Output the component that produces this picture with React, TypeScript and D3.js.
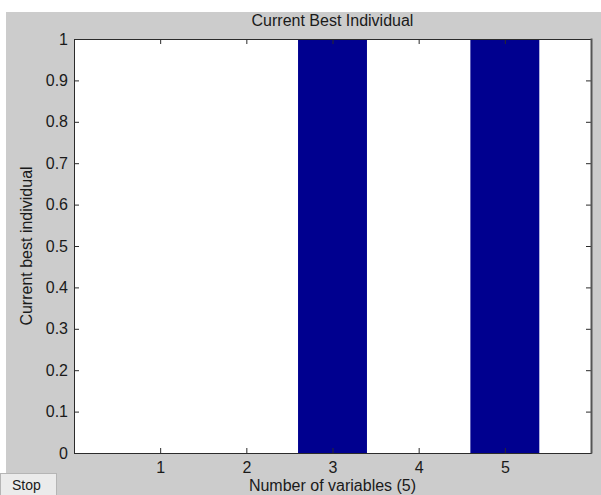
import React, { useEffect, useRef } from "react";
import * as d3 from "d3";

// values
const variables = [1, 2, 3, 4, 5];
const bestIndividual = [0, 0, 1, 0, 1];
const xTickLabels = ["1", "2", "3", "4", "5"];
const chartTitle = "Current Best Individual";
const xTitle = "Number of variables (5)";
const yTitle = "Current best individual";

const App = () => {
    const ref = useRef<SVGSVGElement | null>(null);

    useEffect(() => {
        const width = 601;
        const height = 495;
        const font = "'Liberation Sans', Arial, sans-serif";

        const svg = d3.select(ref.current);
        svg.selectAll("*").remove();

        // figure background (white strip on top/left like the screenshot)
        svg.append("rect").attr("width", width).attr("height", height).attr("fill", "#ffffff");
        svg.append("rect")
            .attr("x", 6)
            .attr("y", 12)
            .attr("width", width - 6)
            .attr("height", height - 12)
            .attr("fill", "#cccccc");

        // Scaling
        const x = d3.scaleLinear().domain([0, 6]).range([74, 591]);
        const y = d3.scaleLinear().domain([0, 1]).range([453, 39]);

        // plot area
        svg.append("rect")
            .attr("x", x(0))
            .attr("y", y(1))
            .attr("width", x(6) - x(0))
            .attr("height", y(0) - y(1))
            .attr("fill", "#ffffff");

        // bars
        const barW = 0.8;
        svg.append("g")
            .attr("fill", "#00008f")
            .selectAll("rect")
            .data(variables)
            .join("rect")
            .attr("x", (d) => x(d - barW / 2))
            .attr("y", (d, i) => y(bestIndividual[i]))
            .attr("width", (d) => x(d + barW / 2) - x(d - barW / 2))
            .attr("height", (d, i) => y(0) - y(bestIndividual[i]));

        const styleAxis = (g) => {
            g.attr("font-family", font).attr("font-size", 16);
            g.selectAll("line").attr("stroke", "#2b2b2b");
            g.selectAll("path").attr("stroke", "#2b2b2b");
            g.selectAll("text").attr("fill", "#1a1a1a");
        };

        // Axes (MATLAB style: ticks point inward, box on)
        svg.append("g")
            .attr("transform", `translate(0,${y(0)})`)
            .call(
                d3.axisBottom(x)
                    .tickValues(variables)
                    .tickFormat((d, i) => xTickLabels[i])
                    .tickSizeInner(-5)
                    .tickSizeOuter(0)
                    .tickPadding(9)
            )
            .call(styleAxis);

        svg.append("g")
            .attr("transform", `translate(${x(0)},0)`)
            .call(
                d3.axisLeft(y)
                    .ticks(10)
                    .tickFormat(d3.format("~g"))
                    .tickSizeInner(-5)
                    .tickSizeOuter(0)
                    .tickPadding(6)
            )
            .call(styleAxis);

        svg.append("g")
            .attr("transform", `translate(0,${y(1)})`)
            .call(d3.axisTop(x).tickValues(variables).tickFormat(() => "").tickSizeInner(-5).tickSizeOuter(0))
            .call(styleAxis);

        svg.append("g")
            .attr("transform", `translate(${x(6)},0)`)
            .call(d3.axisRight(y).ticks(10).tickFormat(() => "").tickSizeInner(-5).tickSizeOuter(0))
            .call(styleAxis);

        // darker right edge
        svg.append("line")
            .attr("x1", x(6) + 0.5)
            .attr("x2", x(6) + 0.5)
            .attr("y1", y(1) - 0.5)
            .attr("y2", y(0) + 0.5)
            .attr("stroke", "#555555")
            .attr("stroke-width", 2);

        // titles
        svg.append("text")
            .attr("x", (x(0) + x(6)) / 2)
            .attr("y", 26)
            .attr("text-anchor", "middle")
            .attr("font-family", font)
            .attr("font-size", 16)
            .attr("fill", "#1a1a1a")
            .text(chartTitle);

        svg.append("text")
            .attr("x", (x(0) + x(6)) / 2)
            .attr("y", 491)
            .attr("text-anchor", "middle")
            .attr("font-family", font)
            .attr("font-size", 16)
            .attr("fill", "#1a1a1a")
            .text(xTitle);

        svg.append("text")
            .attr("transform", `translate(32,${(y(0) + y(1)) / 2}) rotate(-90)`)
            .attr("text-anchor", "middle")
            .attr("font-family", font)
            .attr("font-size", 16)
            .attr("fill", "#1a1a1a")
            .text(yTitle);

        // Stop button
        const btn = svg.append("g");
        btn.append("rect")
            .attr("x", 0.5)
            .attr("y", 473.5)
            .attr("width", 56)
            .attr("height", 24)
            .attr("fill", "#ebebeb")
            .attr("stroke", "#b5b5b5");
        btn.append("text")
            .attr("x", 12)
            .attr("y", 490)
            .attr("font-family", font)
            .attr("font-size", 14)
            .attr("fill", "#1a1a1a")
            .text("Stop");
    }, []);

    return (
        <svg
            ref={ref}
            width={601}
            height={495}
            style={{ position: "absolute", left: 0, top: 0, display: "block" }}
        />
    );
};

export default App;
